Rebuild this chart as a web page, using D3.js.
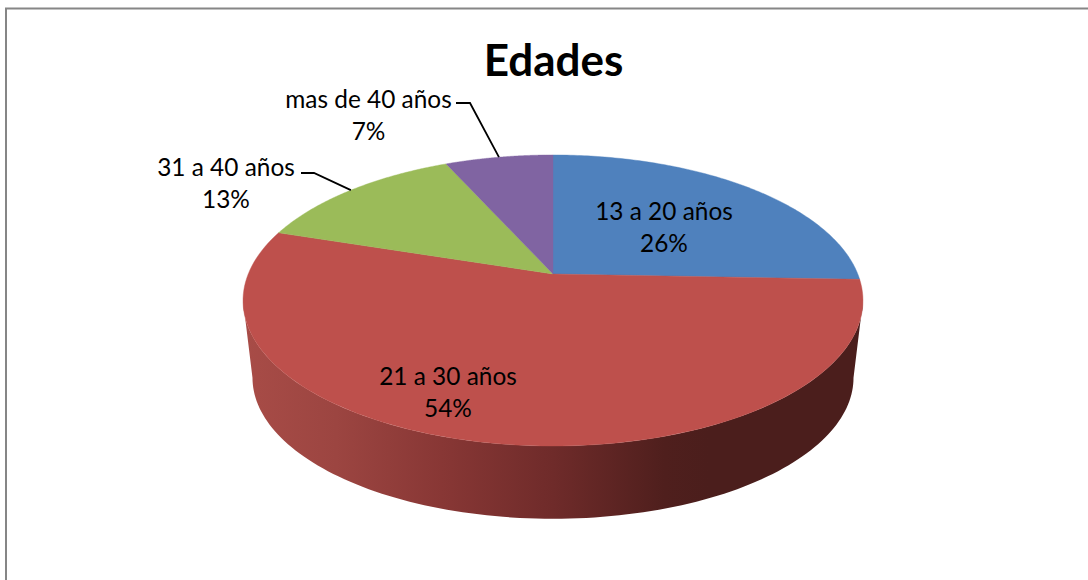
<!DOCTYPE html>
<html><head><meta charset="utf-8">
<script src="https://cdn.jsdelivr.net/npm/d3@7"></script>
<style>html,body{margin:0;padding:0;background:#fff;overflow:hidden}svg{display:block}
text{font-family:Lato,"Open Sans",sans-serif;fill:#000}</style></head><body>
<svg id="c" width="1088" height="580"></svg>
<script>
const title = "Edades";
const categories = ["13 a 20 años","21 a 30 años","31 a 40 años","mas de 40 años"];
const values = [25.6,54.4,13.3,6.7];
const colors = ["#4f81bd","#be504c","#9bbb59","#8064a2"];

const svg = d3.select("#c");
svg.append("path").attr("d","M6 580V8.5H1088").attr("fill","none").attr("stroke","#868686").attr("stroke-width",2);

const k = 0.182;
// Perspective projection of a unit disc
const project = (a, rim) => {
  const u = Math.sin(a), v = Math.cos(a), w = 1 + k*v;
  return [rim.cx + rim.b*u/w, rim.cy - rim.a*v/w];
};
const topRim = {cx:553, cy:274, a:140.7, b:304.8};
const lowRim = {cx:553, cy:352, a:136.4, b:295.5};

const arcs = d3.pie().sort(null).value(d=>d).startAngle(0).endAngle(2*Math.PI)(values);
const line = d3.line();
const samples = (a0,a1,rim) => d3.range(0,1.0001,1/120).map(t=>project(a0+(a1-a0)*t,rim));

// gradient for the side wall
const defs = svg.append("defs");
const grad = defs.append("linearGradient").attr("id","wall").attr("gradientUnits","userSpaceOnUse")
  .attr("x1",243).attr("x2",863).attr("y1",0).attr("y2",0);
[[0,"#a84c47"],[0.15,"#9c4541"],[0.32,"#883735"],[0.5,"#6f2b2a"],[0.68,"#4f1f1d"],[0.75,"#4b1e1c"],[1,"#4b1e1c"]]
  .forEach(([o,c])=>grad.append("stop").attr("offset",o).attr("stop-color",c));

// side wall: the visible front part
const sideA0 = Math.PI/2 + Math.asin(k), sideA1 = 3*Math.PI/2 - Math.asin(k);
const wall = samples(sideA0,sideA1,topRim).concat(samples(sideA0,sideA1,lowRim).reverse());
svg.append("path").attr("d",line(wall)+"Z").attr("fill","url(#wall)");

// top face
arcs.forEach((d,i)=>{
  const pts = [[topRim.cx,topRim.cy]].concat(samples(d.startAngle,d.endAngle,topRim));
  svg.append("path").attr("d",line(pts)+"Z").attr("fill",colors[i]).attr("stroke",colors[i]).attr("stroke-width",0.4);
});

svg.append("text").attr("x",553.5).attr("y",76).attr("text-anchor","middle")
  .attr("font-size",44).attr("font-weight",700).text(title);

// labels: [centre x, first baseline]
const labelAt = [[664,220],[448,385],[226,176],[368.5,107.5]];
const pct = d3.format(".0%"), total = d3.sum(values);
categories.forEach((c,i)=>{
  const t = svg.append("text").attr("text-anchor","middle").attr("font-size",24.4);
  t.append("tspan").attr("x",labelAt[i][0]).attr("y",labelAt[i][1]).text(c);
  t.append("tspan").attr("x",labelAt[i][0]).attr("y",labelAt[i][1]+32).text(pct(values[i]/total));
});

// leader lines
const leaders = {2:[[301,173],[314,173]],3:[[456,103],[470,103]]};
Object.keys(leaders).forEach(i=>{
  const d = arcs[i], end = project((d.startAngle+d.endAngle)/2, topRim);
  svg.append("path").attr("d",line(leaders[i].concat([end]))).attr("fill","none").attr("stroke","#000").attr("stroke-width",1.8);
});
</script></body></html>
